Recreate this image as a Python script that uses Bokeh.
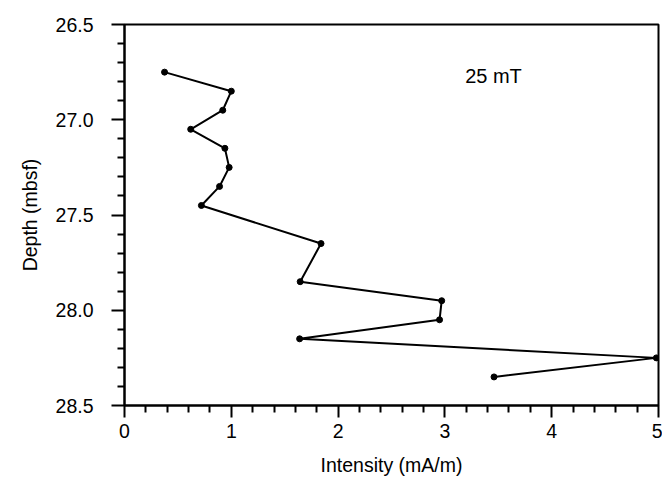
from bokeh.plotting import figure
from bokeh.models import Range1d, FixedTicker, PrintfTickFormatter, Label, Title
from bokeh.embed import file_html
from bokeh.resources import INLINE

# Data
depth = [26.75, 26.85, 26.95, 27.05, 27.15, 27.25, 27.35, 27.45,
         27.65, 27.85, 27.95, 28.05, 28.15, 28.25, 28.35]
intensity = [0.375, 1.0, 0.92, 0.62, 0.94, 0.98, 0.89, 0.72,
             1.84, 1.645, 2.97, 2.95, 1.64, 4.98, 3.46]

x_ticks = [0, 1, 2, 3, 4, 5]
x_minor = [0.2, 0.4, 0.6, 0.8, 1.2, 1.4, 1.6, 1.8, 2.2, 2.4, 2.6, 2.8,
           3.2, 3.4, 3.6, 3.8, 4.2, 4.4, 4.6, 4.8]
y_ticks = [26.5, 27.0, 27.5, 28.0, 28.5]
y_minor = [26.6, 26.7, 26.8, 26.9, 27.1, 27.2, 27.3, 27.4, 27.6, 27.7,
           27.8, 27.9, 28.1, 28.2, 28.3, 28.4]

x_label = "Intensity (mA/m)"
y_label = "Depth (mbsf)"
note = "25 mT"

FONT = "Liberation Sans"

p = figure(width=662, height=487, output_backend="svg", toolbar_location=None,
           x_range=Range1d(0, 5), y_range=Range1d(28.5, 26.5),
           min_border_left=124, min_border_right=4, min_border_top=24,
           min_border_bottom=82)
p.background_fill_color = "white"
p.border_fill_color = "white"
p.outline_line_color = "black"
p.outline_line_width = 2
p.grid.visible = False

p.line(intensity, depth, line_color="black", line_width=2)
p.scatter(intensity, depth, size=6, fill_color="black", line_color="black")

for ax in (p.xaxis[0], p.yaxis[0]):
    ax.axis_line_color = "black"
    ax.axis_line_width = 2
    ax.major_tick_line_color = "black"
    ax.major_tick_line_width = 2
    ax.minor_tick_line_color = "black"
    ax.minor_tick_line_width = 2
    ax.major_tick_in = 0
    ax.minor_tick_in = 0
    ax.major_label_text_font = FONT
    ax.major_label_text_font_size = "19.5px"
    ax.major_label_text_color = "black"

p.xaxis[0].ticker = FixedTicker(ticks=x_ticks, minor_ticks=x_minor)
p.xaxis[0].formatter = PrintfTickFormatter(format="%d")
p.xaxis[0].major_tick_out = 12
p.xaxis[0].minor_tick_out = 7
p.xaxis[0].major_label_standoff = 6

p.yaxis[0].ticker = FixedTicker(ticks=y_ticks, minor_ticks=y_minor)
p.yaxis[0].formatter = PrintfTickFormatter(format="%.1f")
p.yaxis[0].major_tick_out = 13
p.yaxis[0].minor_tick_out = 7
p.yaxis[0].major_label_standoff = 18

p.add_layout(Title(text=x_label, align="center", offset=-27, standoff=22,
                   text_font=FONT, text_font_size="19.5px",
                   text_font_style="normal", text_color="black"), "below")
p.add_layout(Title(text=y_label, align="center", offset=20, standoff=23,
                   text_font=FONT, text_font_size="19.5px",
                   text_font_style="normal", text_color="black"), "left")

p.add_layout(Label(x=3.455, y=26.77, text=note, text_font=FONT,
                   text_font_size="20px", text_color="black",
                   text_align="center", text_baseline="alphabetic"))

open("out.html", "w").write(file_html(p, INLINE))
